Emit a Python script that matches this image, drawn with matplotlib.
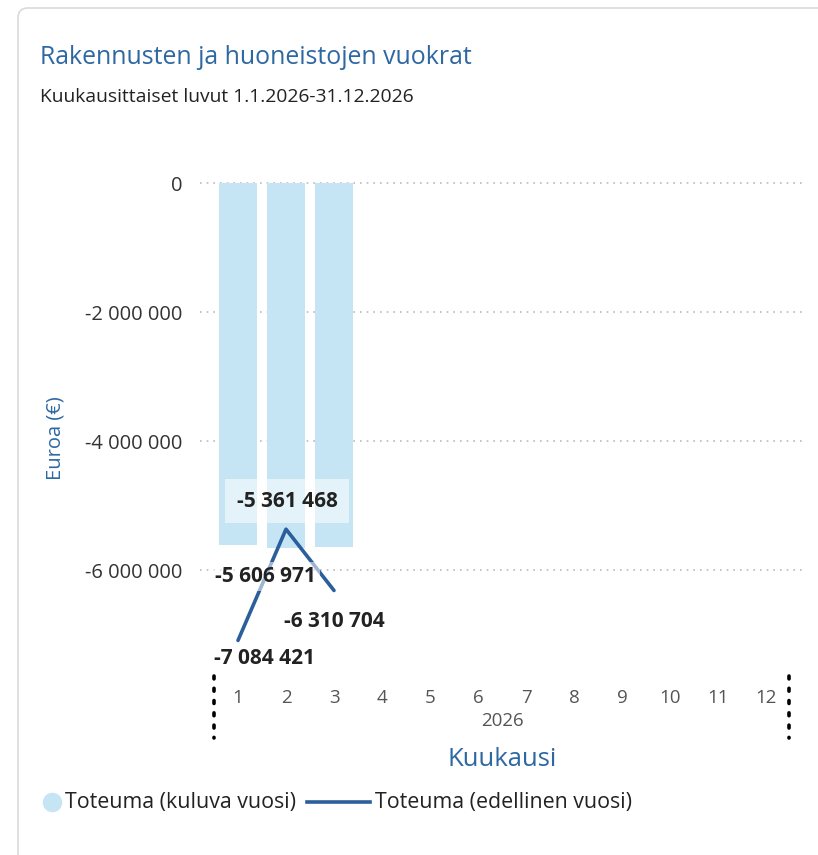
import matplotlib
matplotlib.use("Agg")
import matplotlib.pyplot as plt
from matplotlib.patches import FancyBboxPatch
from matplotlib.lines import Line2D

# data
months = [1, 2, 3, 4, 5, 6, 7, 8, 9, 10, 11, 12]
bar_months = [1, 2, 3]
current_year = [-5606971, -5650000, -5630000]   # Toteuma (kuluva vuosi)
previous_year = [-7084421, -5361468, -6310704]  # Toteuma (edellinen vuosi)
yticks = [0, -2000000, -4000000, -6000000]

bar_color = "#C5E5F5"
line_color = "#2A5F9B"
title_color = "#2E68A3"
W, H = 818, 855


def fx(px):
    return px / W


def fy(py):
    return 1 - py / H


def fmt(v):
    return "{:,}".format(int(v)).replace(",", " ")


plt.rcParams['font.family'] = ['Open Sans', 'DejaVu Sans']
fig = plt.figure(figsize=(W / 100, H / 100), dpi=100)

# card
card = FancyBboxPatch((fx(18), fy(880)), fx(830) - fx(18), fy(8) - fy(880),
                      boxstyle="round,pad=0,rounding_size=0.012",
                      transform=fig.transFigure, facecolor="white",
                      edgecolor="#DADADA", linewidth=1.2, zorder=-5)
fig.patches.append(card)

fig.text(fx(40), fy(57), "Rakennusten ja huoneistojen vuokrat", color=title_color,
         fontsize=17.9, va="center", ha="left")
fig.text(fx(40), fy(97), "Kuukausittaiset luvut 1.1.2026-31.12.2026", color="#222222",
         fontsize=13.9, va="center", ha="left")

ax = fig.add_axes([fx(214), fy(675), fx(790) - fx(214), fy(165) - fy(675)])
ax.set_facecolor("none")
ax.set_xlim(0.5, 12.5)
ax.set_ylim(-7620000, 280000)

ax.bar(bar_months, current_year, width=0.78, color=bar_color, zorder=2)
ax.plot(bar_months, previous_year, color=line_color, linewidth=2.6,
        solid_capstyle="round", zorder=3)

# gridlines
for t in yticks:
    ax.plot([0.2, 12.8], [t, t], color="#BBBBBB", linestyle=(0, (1, 3)),
            linewidth=1.2, clip_on=False, zorder=1)

ax.set_yticks(yticks)
ax.set_yticklabels([fmt(t) for t in yticks])
ax.set_xticks(months)
ax.set_xticklabels([str(m) for m in months])
ax.tick_params(axis="y", length=0, pad=23, labelsize=14.5, labelcolor="#333333")
ax.tick_params(axis="x", length=0, pad=10, labelsize=13.5, labelcolor="#555555")
for s in ax.spines.values():
    s.set_visible(False)

# data labels
lab = dict(fontsize=15, fontweight="bold", color="#222222", ha="center", va="center",
           zorder=5)
box = dict(boxstyle="square,pad=0.2", facecolor="white", edgecolor="none", alpha=0.55)
ax.text(2.02, previous_year[1] + 430000, fmt(previous_year[1]),
        bbox=dict(boxstyle="square,pad=0.55", facecolor="white", edgecolor="none",
                  alpha=0.55), **lab)
ax.text(1.58, current_year[0] - 490000, fmt(current_year[0]), bbox=box, **lab)
ax.text(3.0, previous_year[2] - 480000, fmt(previous_year[2]), bbox=box, **lab)
ax.text(1.56, previous_year[0] - 280000, fmt(previous_year[0]), bbox=box, **lab)

# axis texts
fig.text(fx(502), fy(721), "2026", color="#555555", fontsize=13.5, ha="center", va="center")
fig.text(fx(502), fy(759), "Kuukausi", color=title_color, fontsize=18.5, ha="center",
         va="center")
fig.text(fx(55), fy(438), "Euroa (€)", color=title_color, fontsize=14.5, rotation=90,
         ha="center", va="center")

# category separators
for x in (214, 789):
    fig.add_artist(Line2D([fx(x), fx(x)], [fy(676), fy(738)], color="black",
                          linestyle=(0, (0.8, 2.6)), linewidth=2.6,
                          dash_capstyle="round", transform=fig.transFigure))

# legend
fig.add_artist(Line2D([fx(52)], [fy(802)], marker="o", markersize=13, color=bar_color,
                      linestyle="none", transform=fig.transFigure))
fig.text(fx(65), fy(802), "Toteuma (kuluva vuosi)", fontsize=15.4, color="#222222",
         ha="left", va="center")
fig.add_artist(Line2D([fx(307), fx(370)], [fy(802), fy(802)], color=line_color,
                      linewidth=2.6, transform=fig.transFigure))
fig.text(fx(375), fy(802), "Toteuma (edellinen vuosi)", fontsize=15.4, color="#222222",
         ha="left", va="center")

fig.savefig("out.png", dpi=100)
